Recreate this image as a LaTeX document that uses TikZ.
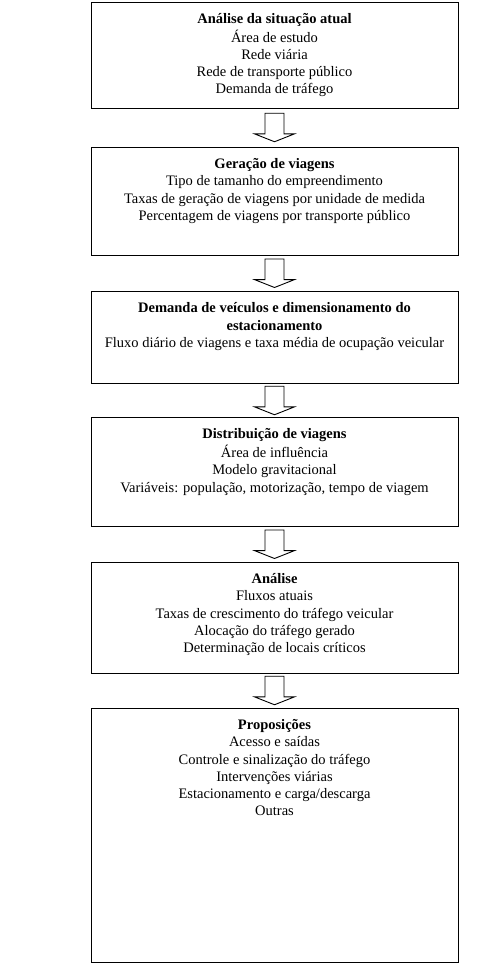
\documentclass[tikz,border=0pt]{standalone}
\usepackage{fontspec}
\setmainfont{Liberation Serif}
\usetikzlibrary{calc}
\begin{document}
\begin{tikzpicture}[x=1pt,y=-1pt,
  stagebox/.style={draw=black, line width=0.9pt, rectangle, inner sep=0pt, minimum width=367pt},
  stagetext/.style={anchor=north, inner sep=0pt, align=center, font=\fontsize{14.5}{17.3}\selectfont},
  blockarrow/.style={draw=black, line width=0.9pt, fill=white, line join=miter}]
\useasboundingbox (0,0) rectangle (486,964);
% boxes
\node[stagebox, minimum height=106pt] (b1) at (274.5,55) {};
\node[stagebox, minimum height=108pt] (b2) at (274.5,201) {};
\node[stagebox, minimum height=92pt] (b3) at (274.5,337.5) {};
\node[stagebox, minimum height=109pt] (b4) at (274.5,472) {};
\node[stagebox, minimum height=111pt] (b5) at (274.5,617.5) {};
\node[stagebox, minimum height=254pt] (b6) at (274.5,835) {};
% texts
\node[stagetext] (t1) at ($(b1.north)+(0,9.6)$) {\strut\textbf{Análise da situação atual}\\Área de estudo\\Rede viária\\Rede de transporte público\\Demanda de tráfego};
\node[stagetext] (t2) at ($(b2.north)+(0,9.6)$) {\strut\textbf{Geração de viagens}\\Tipo de tamanho do empreendimento\\Taxas de geração de viagens por unidade de medida\\Percentagem de viagens por transporte público};
\node[stagetext] (t3) at ($(b3.north)+(0,9.6)$) {\strut\textbf{Demanda de veículos e dimensionamento do}\\\textbf{estacionamento}\\Fluxo diário de viagens e taxa média de ocupação veicular};
\node[stagetext] (t4) at ($(b4.north)+(0,9.6)$) {\strut\textbf{Distribuição de viagens}\\Área de influência\\Modelo gravitacional\\Variáveis: população, motorização, tempo de viagem};
\node[stagetext] (t5) at ($(b5.north)+(0,9.6)$) {\strut\textbf{Análise}\\Fluxos atuais\\Taxas de crescimento do tráfego veicular\\Alocação do tráfego gerado\\Determinação de locais críticos};
\node[stagetext] (t6) at ($(b6.north)+(0,9.6)$) {\strut\textbf{Proposições}\\Acesso e saídas\\Controle e sinalização do tráfego\\Intervenções viárias\\Estacionamento e carga/descarga\\Outras};
% block arrows between boxes
\foreach \a/\b in {b1/b2,b2/b3,b3/b4,b4/b5,b5/b6}{
  \coordinate (m) at ($(\a.south)!0.5!(\b.north)$);
  \draw[blockarrow] ($(m)+(-9.5,-14.25)$) -- ++(19,0) -- ++(0,20.6) -- ++(10.5,0)
     -- ($(m)+(0,14.25)$) -- ($(m)+(-20,6.35)$) -- ++(10.5,0) -- cycle;
}
\end{tikzpicture}
\end{document}
